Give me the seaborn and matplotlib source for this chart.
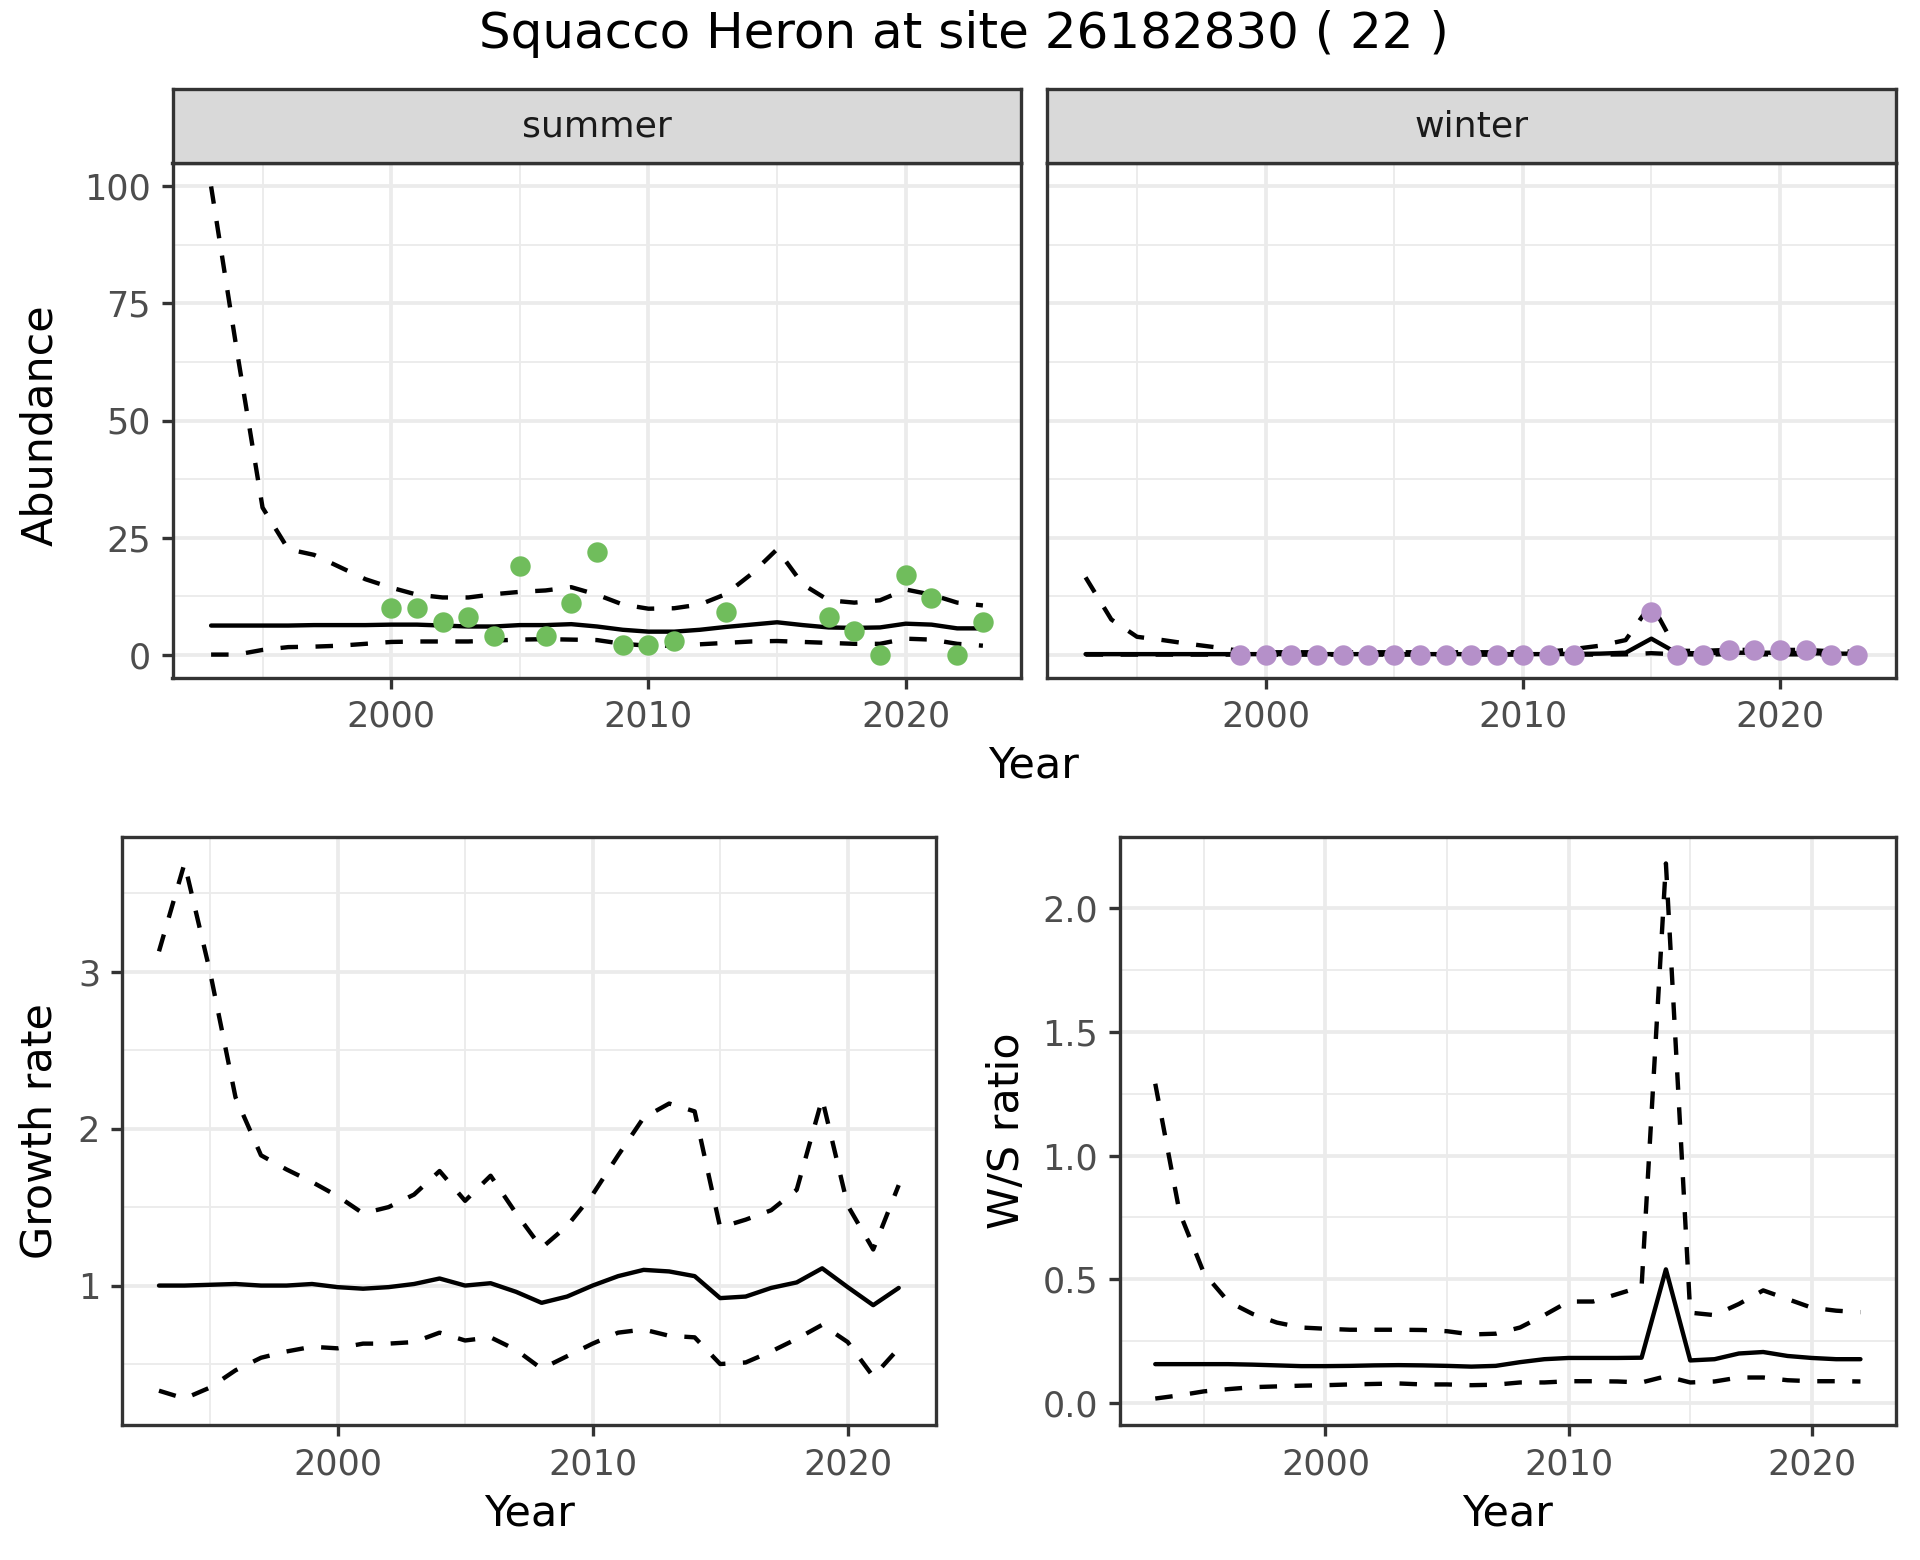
import numpy as np
import pandas as pd
import matplotlib
matplotlib.use("Agg")
import matplotlib.pyplot as plt
import seaborn as sns
from matplotlib.ticker import FixedLocator

# ---------------- data ----------------
title_text = "Squacco Heron at site 26182830 ( 22 )"
facets = ["summer", "winter"]

years_abund = list(range(1993, 2024))
summer_mid = [6.2, 6.2, 6.2, 6.2, 6.3, 6.3, 6.3, 6.4, 6.4, 6.2, 6.0, 6.0, 6.3, 6.3, 6.5, 6.0,
              5.3, 4.9, 4.9, 5.3, 5.9, 6.4, 6.9, 6.3, 5.8, 5.7, 5.8, 6.6, 6.4, 5.6, 5.6]
summer_hi = [100.0, 65.0, 31.4, 22.5, 21.3, 18.7, 16.1, 14.3, 12.8, 12.2, 12.2, 12.9, 13.4, 13.7,
             14.4, 12.8, 10.7, 9.8, 9.9, 10.7, 12.9, 17.2, 22.5, 15.0, 11.6, 11.1, 11.6, 13.9,
             12.8, 11.1, 10.5]
summer_lo = [0.0, 0.0, 1.0, 1.6, 1.7, 1.9, 2.3, 2.7, 2.8, 2.8, 2.8, 3.0, 3.2, 3.3, 3.2, 3.1,
             2.3, 1.9, 1.9, 2.2, 2.5, 2.8, 2.9, 2.7, 2.5, 2.3, 2.3, 3.4, 3.2, 2.3, 1.9]
summer_obs_years = [2000, 2001, 2002, 2003, 2004, 2005, 2006, 2007, 2008, 2009, 2010, 2011,
                    2013, 2017, 2018, 2019, 2020, 2021, 2022, 2023]
summer_obs = [10, 10, 7, 8, 4, 19, 4, 11, 22, 2, 2, 3, 9, 8, 5, 0, 17, 12, 0, 7]

winter_mid = [0.1, 0.1, 0.1, 0.1, 0.1, 0.1, 0.1, 0.1, 0.1, 0.1, 0.1, 0.1, 0.1, 0.1, 0.1, 0.1,
              0.1, 0.1, 0.1, 0.15, 0.2, 0.4, 3.4, 0.3, 0.3, 0.4, 0.4, 0.4, 0.3, 0.2, 0.2]
winter_hi = [16.5, 7.5, 3.8, 3.1, 2.3, 1.6, 0.8, 0.5, 0.5, 0.5, 0.5, 0.5, 0.5, 0.5, 0.5, 0.5,
             0.5, 0.5, 0.6, 1.2, 1.9, 3.1, 10.9, 0.8, 0.8, 1.0, 1.0, 1.0, 1.0, 0.7, 0.6]
winter_lo = [0.0, 0.0, 0.0, 0.0, 0.0, 0.0, 0.0, 0.0, 0.0, 0.0, 0.0, 0.0, 0.0, 0.0, 0.0, 0.0,
             0.0, 0.0, 0.0, 0.0, 0.0, 0.05, 0.3, 0.05, 0.05, 0.05, 0.05, 0.05, 0.05, 0.0, 0.0]
winter_obs_years = [1999, 2000, 2001, 2002, 2003, 2004, 2005, 2006, 2007, 2008, 2009, 2010,
                    2011, 2012, 2015, 2016, 2017, 2018, 2019, 2020, 2021, 2022, 2023]
winter_obs = [0, 0, 0, 0, 0, 0, 0, 0, 0, 0, 0, 0, 0, 0, 9, 0, 0, 1, 1, 1, 1, 0, 0]

years_rate = list(range(1993, 2023))
growth_mid = [1.0, 1.0, 1.005, 1.01, 1.0, 1.0, 1.01, 0.99, 0.98, 0.99, 1.01, 1.045, 1.0, 1.015,
              0.96, 0.89, 0.93, 1.0, 1.06, 1.10, 1.09, 1.06, 0.92, 0.93, 0.985, 1.02, 1.11,
              0.99, 0.875, 0.985]
growth_hi = [3.13, 3.69, 3.0, 2.2, 1.83, 1.74, 1.66, 1.57, 1.46, 1.50, 1.58, 1.73, 1.54, 1.70,
             1.46, 1.24, 1.38, 1.58, 1.83, 2.07, 2.16, 2.11, 1.37, 1.42, 1.48, 1.61, 2.19,
             1.51, 1.23, 1.64]
growth_lo = [0.33, 0.28, 0.35, 0.46, 0.54, 0.58, 0.61, 0.60, 0.63, 0.63, 0.64, 0.70, 0.65, 0.67,
             0.59, 0.47, 0.55, 0.63, 0.70, 0.72, 0.68, 0.67, 0.50, 0.51, 0.58, 0.66, 0.75,
             0.64, 0.42, 0.60]

ws_mid = [0.157, 0.157, 0.157, 0.157, 0.155, 0.152, 0.149, 0.149, 0.150, 0.152, 0.153, 0.152,
          0.150, 0.147, 0.150, 0.165, 0.177, 0.182, 0.182, 0.182, 0.183, 0.54, 0.172, 0.177,
          0.200, 0.206, 0.190, 0.182, 0.177, 0.177]
ws_hi = [1.29, 0.77, 0.525, 0.41, 0.36, 0.325, 0.305, 0.30, 0.296, 0.296, 0.296, 0.295, 0.29,
         0.277, 0.28, 0.305, 0.355, 0.41, 0.41, 0.44, 0.47, 2.18, 0.365, 0.355, 0.40, 0.455,
         0.42, 0.385, 0.373, 0.367]
ws_lo = [0.018, 0.031, 0.047, 0.056, 0.064, 0.067, 0.070, 0.072, 0.075, 0.077, 0.079, 0.075,
         0.075, 0.072, 0.074, 0.083, 0.083, 0.088, 0.088, 0.087, 0.083, 0.108, 0.083, 0.087,
         0.103, 0.103, 0.092, 0.088, 0.088, 0.087]

# ---------------- style ----------------
sns.set_theme(style="white")
plt.rcParams["font.family"] = ["DejaVu Sans"]

W, H = 1920, 1560
DPI = 300
GREEN = "#70BD5C"
PURPLE = "#B590C9"
BORDER = "#333333"
GRID = "#EBEBEB"
TICKTXT = "#4D4D4D"
TICK_FS = 8.4
LAB_FS = 10.3
LW = 1.05
DASH = (0, (4, 4))

fig = plt.figure(figsize=(W / DPI, H / DPI), dpi=DPI)
fig.patch.set_facecolor("white")


def px_axes(x0, y0, x1, y1):
    return fig.add_axes([x0 / W, 1 - y1 / H, (x1 - x0) / W, (y1 - y0) / H])


def style_axes(ax, xlim, ylim, yticks, ylabels, yminor, show_ylabels=True):
    ax.set_facecolor("white")
    ax.set_xlim(*xlim)
    ax.set_ylim(*ylim)
    ax.xaxis.set_major_locator(FixedLocator([2000, 2010, 2020]))
    ax.xaxis.set_minor_locator(FixedLocator([1995, 2005, 2015]))
    ax.set_xticklabels(["2000", "2010", "2020"])
    ax.yaxis.set_major_locator(FixedLocator(yticks))
    ax.yaxis.set_minor_locator(FixedLocator(yminor))
    if show_ylabels:
        ax.set_yticklabels(ylabels)
    else:
        ax.set_yticklabels([])
    ax.grid(True, which="major", color=GRID, lw=0.9, zorder=0)
    ax.grid(True, which="minor", color=GRID, lw=0.45, zorder=0)
    ax.set_axisbelow(True)
    for s in ax.spines.values():
        s.set_color(BORDER)
        s.set_linewidth(0.8)
        s.set_visible(True)
    ax.tick_params(which="major", direction="out", length=2.75, width=0.8, color=BORDER,
                   labelsize=TICK_FS, labelcolor=TICKTXT, pad=2.5,
                   bottom=True, left=True)
    ax.tick_params(which="minor", length=0, bottom=False, left=False)
    if not show_ylabels:
        ax.tick_params(axis="y", which="major", length=0)
    ax.set_xlabel("")
    ax.set_ylabel("")


def draw_lines(ax, years, mid, lo, hi):
    df = pd.DataFrame({"Year": years, "mid": mid, "lo": lo, "hi": hi})
    sns.lineplot(data=df, x="Year", y="hi", ax=ax, color="black", lw=LW, linestyle=DASH, zorder=3)
    sns.lineplot(data=df, x="Year", y="lo", ax=ax, color="black", lw=LW, linestyle=DASH, zorder=3)
    sns.lineplot(data=df, x="Year", y="mid", ax=ax, color="black", lw=LW, zorder=3)


def expanded(vals_list, frac=0.05):
    allv = np.concatenate([np.asarray(v, float) for v in vals_list])
    lo, hi = allv.min(), allv.max()
    r = hi - lo
    return lo - frac * r, hi + frac * r


# ---------------- top: abundance facets ----------------
abund_xlim = expanded([years_abund])
abund_ylim = expanded([summer_hi, summer_lo, winter_hi, winter_lo, summer_obs, winter_obs])

panels = [
    (172.5, 1021.5, facets[0], summer_mid, summer_lo, summer_hi, summer_obs_years, summer_obs, GREEN, True),
    (1047.0, 1895.7, facets[1], winter_mid, winter_lo, winter_hi, winter_obs_years, winter_obs, PURPLE, False),
]
for x0, x1, name, mid, lo, hi, oy, ov, col, showy in panels:
    ax = px_axes(x0, 163, x1, 678)
    draw_lines(ax, years_abund, mid, lo, hi)
    sns.scatterplot(x=oy, y=ov, ax=ax, color=col, s=24, linewidth=0, zorder=4)
    style_axes(ax, abund_xlim, abund_ylim, [0, 25, 50, 75, 100],
               ["0", "25", "50", "75", "100"], [12.5, 37.5, 62.5, 87.5], show_ylabels=showy)
    # strip
    sax = px_axes(x0, 89.3, x1, 163)
    sax.set_facecolor("#D9D9D9")
    sax.set_xticks([])
    sax.set_yticks([])
    for s in sax.spines.values():
        s.set_color(BORDER)
        s.set_linewidth(0.8)
    sax.text(0.5, 0.5, name, transform=sax.transAxes, ha="center", va="center",
             fontsize=8.7, color="#1A1A1A")

# ---------------- bottom-left: growth rate ----------------
ax_g = px_axes(122, 836.7, 935.7, 1425.3)
draw_lines(ax_g, years_rate, growth_mid, growth_lo, growth_hi)
style_axes(ax_g, expanded([years_rate]), expanded([growth_lo, growth_hi]), [1, 2, 3],
           ["1", "2", "3"], [0.5, 1.5, 2.5, 3.5])

# ---------------- bottom-right: W/S ratio ----------------
ax_w = px_axes(1120, 836.7, 1895.7, 1425.3)
draw_lines(ax_w, years_rate, ws_mid, ws_lo, ws_hi)
style_axes(ax_w, expanded([years_rate]), expanded([ws_lo, ws_hi]), [0, 0.5, 1.0, 1.5, 2.0],
           ["0.0", "0.5", "1.0", "1.5", "2.0"], [0.25, 0.75, 1.25, 1.75])

# ---------------- texts ----------------
def ftext(x, y, s, **kw):
    fig.text(x / W, 1 - y / H, s, **kw)

ftext(964, 34.5, title_text, ha="center", va="center", fontsize=12, color="black")
ftext(1034, 765, "Year", ha="center", va="center", fontsize=LAB_FS, color="black")
ftext(40, 425, "Abundance", ha="center", va="center", rotation=90, fontsize=LAB_FS, color="black")
ftext(529, 1513, "Year", ha="center", va="center", fontsize=LAB_FS, color="black")
ftext(1508, 1513, "Year", ha="center", va="center", fontsize=LAB_FS, color="black")
ftext(40, 1131, "Growth rate", ha="center", va="center", rotation=90, fontsize=LAB_FS, color="black")
ftext(1007, 1131, "W/S ratio", ha="center", va="center", rotation=90, fontsize=LAB_FS, color="black")

fig.savefig("out.png", dpi=DPI, facecolor="white")
